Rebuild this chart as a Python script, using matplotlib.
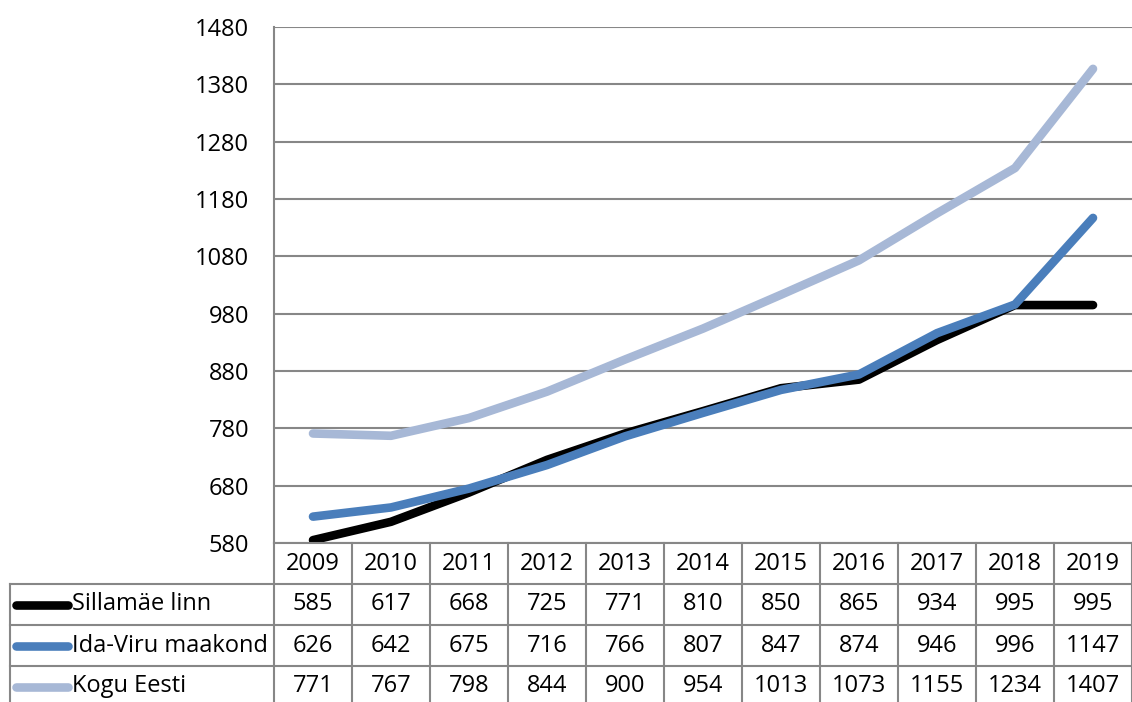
import numpy as np
import matplotlib
matplotlib.use('Agg')
import matplotlib.pyplot as plt

# data
years = ['2009', '2010', '2011', '2012', '2013', '2014', '2015', '2016', '2017', '2018', '2019']
sillamae = [585, 617, 668, 725, 771, 810, 850, 865, 934, 995, 995]
idaviru = [626, 642, 675, 716, 766, 807, 847, 874, 946, 996, 1147]
eesti = [771, 767, 798, 844, 900, 954, 1013, 1073, 1155, 1234, 1407]
names = ['Sillamäe linn', 'Ida-Viru maakond', 'Kogu Eesti']
yticks = [580, 680, 780, 880, 980, 1080, 1180, 1280, 1380, 1480]

colors = ['#000000', '#4a7ebb', '#a7b8d6']
grid_col = '#878787'
plt.rcParams['font.family'] = ['Open Sans', 'DejaVu Sans']
fs = 17

W, H = 1132, 702
fig = plt.figure(figsize=(W / 100, H / 100), dpi=100)

# plot area (pixels: left 274, top 27, bottom 543)
ax = fig.add_axes([274 / W, (H - 543) / H, (W - 274) / W, 516 / H])
x = np.arange(len(years))
# series order as in the legend: later series drawn on top
for vals, c in zip([sillamae, idaviru, eesti], colors):
    ax.plot(x, vals, color=c, lw=6.2, solid_capstyle='round', solid_joinstyle='round', zorder=3)
ax.set_xlim(-0.5, len(years) - 0.5)
ax.set_ylim(580, 1480)
ax.set_yticks(yticks)
ax.set_yticklabels([str(t) for t in yticks], fontsize=fs)
ax.set_xticks([])
ax.yaxis.grid(True, color=grid_col, lw=1.5)
ax.tick_params(axis='y', length=0, pad=18)
for s in ['top', 'right', 'bottom']:
    ax.spines[s].set_visible(False)
ax.spines['left'].set_color(grid_col)
ax.spines['left'].set_linewidth(1.5)

# data table below, drawn in pixel coordinates
tb = fig.add_axes([0, 0, 1, 1])
tb.set_xlim(0, W)
tb.set_ylim(H, 0)
tb.axis('off')
col_w = (W - 274) / len(years)
row_h = 41
top = 543
kw = dict(color=grid_col, lw=1.5)
# column lines
for i in range(len(years) + 1):
    xx = 274 + i * col_w
    tb.plot([xx, xx], [top, H], **kw)
tb.plot([10, 10], [top + row_h, H], **kw)
# row lines
tb.plot([274, W], [top, top], **kw)
for r in range(1, 4):
    tb.plot([10, W], [top + r * row_h, top + r * row_h], **kw)
# header
for i, yr in enumerate(years):
    tb.text(274 + (i + 0.5) * col_w, top + row_h / 2, yr, ha='center', va='center', fontsize=fs)
# rows
for r, (name, vals) in enumerate(zip(names, [sillamae, idaviru, eesti])):
    yc = top + (r + 1.5) * row_h
    tb.plot([16, 68], [yc, yc], color=colors[r], lw=6.2, solid_capstyle='round')
    tb.text(72, yc, name, ha='left', va='center', fontsize=fs)
    for i, v in enumerate(vals):
        tb.text(274 + (i + 0.5) * col_w, yc, str(v), ha='center', va='center', fontsize=fs)

fig.savefig('out.png', dpi=100)
